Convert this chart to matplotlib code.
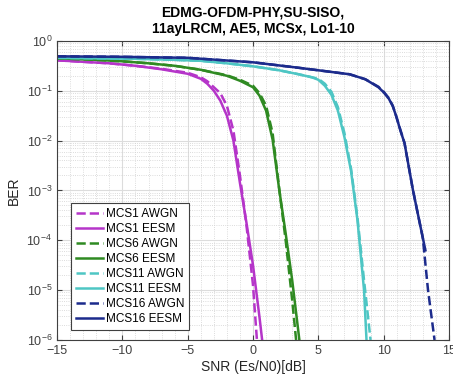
import numpy as np
import matplotlib
matplotlib.use('Agg')
import matplotlib.pyplot as plt
from matplotlib.ticker import MultipleLocator, LogLocator, NullFormatter

plt.rcParams['font.family'] = ['Liberation Sans', 'DejaVu Sans']

# values: SNR [dB] and log10(BER)
mcs1_awgn_snr = [-15, -13, -11, -9, -7, -5, -4, -3.5, -3, -2.5, -2, -1.5, -1, -0.5, 0, 0.3]
mcs1_awgn_log = [-0.39, -0.42, -0.45, -0.5, -0.56, -0.64, -0.73, -0.81, -0.93, -1.05, -1.3, -1.8, -2.7, -3.7, -4.9, -6.0]
mcs1_eesm_snr = [-15, -13, -11, -9, -7, -5, -4, -3.5, -3, -2.5, -2, -1.5, -1, -0.5, 0, 0.5, 0.7]
mcs1_eesm_log = [-0.39, -0.42, -0.45, -0.5, -0.57, -0.66, -0.76, -0.86, -1.0, -1.2, -1.5, -2.0, -2.85, -3.65, -4.5, -5.55, -6.0]

mcs6_awgn_snr = [-15, -12, -10, -8, -6, -4, -2, -1, 0, 0.5, 1, 1.5, 2, 2.5, 3, 3.3]
mcs6_awgn_log = [-0.35, -0.38, -0.41, -0.45, -0.5, -0.58, -0.69, -0.78, -0.9, -1.05, -1.3, -1.85, -2.95, -4.0, -5.2, -6.0]
mcs6_eesm_snr = [-15, -12, -10, -8, -6, -4, -2, -1, 0, 0.5, 1, 1.5, 2, 2.5, 3, 3.55]
mcs6_eesm_log = [-0.35, -0.38, -0.41, -0.45, -0.5, -0.58, -0.7, -0.8, -0.93, -1.1, -1.4, -1.98, -2.97, -3.86, -4.8, -6.0]

mcs11_awgn_snr = [-15, -12, -9, -6, -4, -2, 0, 2, 3.5, 4.5, 5, 5.5, 6, 6.5, 7, 7.5, 8, 8.5, 9.0]
mcs11_awgn_log = [-0.34, -0.35, -0.36, -0.38, -0.4, -0.45, -0.51, -0.59, -0.67, -0.73, -0.76, -0.86, -1.02, -1.33, -1.85, -2.55, -3.55, -4.8, -6.0]
mcs11_eesm_snr = [-15, -12, -9, -6, -4, -2, 0, 2, 3.5, 4.5, 5, 5.5, 6, 6.5, 7, 7.5, 8, 8.5, 8.69]
mcs11_eesm_log = [-0.34, -0.35, -0.36, -0.38, -0.4, -0.45, -0.51, -0.59, -0.67, -0.73, -0.78, -0.9, -1.08, -1.4, -1.93, -2.6, -3.6, -5.0, -6.0]

mcs16_awgn_snr = [-15, -10, -5, 0, 3.5, 5, 7.4, 8.6, 9.6, 10.0, 10.4, 10.7, 10.95, 11.3, 11.6, 12.25, 13.0, 13.4, 13.9]
mcs16_awgn_log = [-0.31, -0.32, -0.34, -0.43, -0.54, -0.59, -0.67, -0.77, -0.92, -1.02, -1.15, -1.3, -1.5, -1.8, -2.05, -3.0, -3.95, -5.0, -6.0]
mcs16_eesm_snr = [-15, -10, -5, 0, 3.5, 5, 7.4, 8.6, 9.6, 10.0, 10.4, 10.7, 10.95, 11.3, 11.6, 12.25, 13.0, 13.2]
mcs16_eesm_log = [-0.31, -0.32, -0.34, -0.43, -0.54, -0.59, -0.67, -0.77, -0.93, -1.03, -1.16, -1.31, -1.5, -1.81, -2.05, -3.0, -3.95, -4.2]

c_mag = '#B535C9'
c_grn = '#2F8A22'
c_cyn = '#4EC6C4'
c_blu = '#1C2B8C'
lw = 1.8

fig = plt.figure(figsize=(4.53, 3.82), dpi=100)
ax = fig.add_axes([0.126, 0.110, 0.865, 0.783])

def curve(s, l, color, ls, label):
    ax.semilogy(s, 10.0 ** np.array(l), color=color, ls=ls, lw=lw, label=label)

curve(mcs1_awgn_snr, mcs1_awgn_log, c_mag, '--', 'MCS1 AWGN')
curve(mcs1_eesm_snr, mcs1_eesm_log, c_mag, '-', 'MCS1 EESM')
curve(mcs6_awgn_snr, mcs6_awgn_log, c_grn, '--', 'MCS6 AWGN')
curve(mcs6_eesm_snr, mcs6_eesm_log, c_grn, '-', 'MCS6 EESM')
curve(mcs11_awgn_snr, mcs11_awgn_log, c_cyn, '--', 'MCS11 AWGN')
curve(mcs11_eesm_snr, mcs11_eesm_log, c_cyn, '-', 'MCS11 EESM')
curve(mcs16_awgn_snr, mcs16_awgn_log, c_blu, '--', 'MCS16 AWGN')
curve(mcs16_eesm_snr, mcs16_eesm_log, c_blu, '-', 'MCS16 EESM')

ax.set_xlim(-15, 15)
ax.set_ylim(1e-6, 1)
ax.xaxis.set_major_locator(MultipleLocator(5))
ax.xaxis.set_minor_locator(MultipleLocator(1))
ax.yaxis.set_major_locator(LogLocator(base=10, numticks=10))
ax.yaxis.set_minor_locator(LogLocator(base=10, subs=np.arange(2, 10), numticks=10))
ax.yaxis.set_minor_formatter(NullFormatter())
ax.grid(True, which='major', color='#dcdcdc', lw=0.8)
ax.grid(True, which='minor', color='#d0d0d0', lw=0.6, ls=':')
ax.tick_params(which='both', direction='in', top=True, right=True, labelsize=9, colors='#404040')
ax.tick_params(which='minor', length=0)
for sp in ax.spines.values():
    sp.set_color('#404040')
    sp.set_linewidth(0.8)

ax.set_xlabel('SNR (Es/N0)[dB]', fontsize=10, color='#262626', labelpad=2)
ax.set_ylabel('BER', fontsize=10, color='#262626')
ax.set_title('EDMG-OFDM-PHY,SU-SISO,\n11ayLRCM, AE5, MCSx, Lo1-10', fontsize=10, fontweight='bold', pad=6)

leg = ax.legend(loc='lower left', fontsize=8.5, frameon=True, fancybox=False, edgecolor='#404040',
                framealpha=1, handlelength=2.3, handletextpad=0.3, labelspacing=0.25, borderpad=0.4,
                bbox_to_anchor=(0.02, 0.015))
leg.get_frame().set_linewidth(0.8)

fig.savefig('out.png', dpi=100)
